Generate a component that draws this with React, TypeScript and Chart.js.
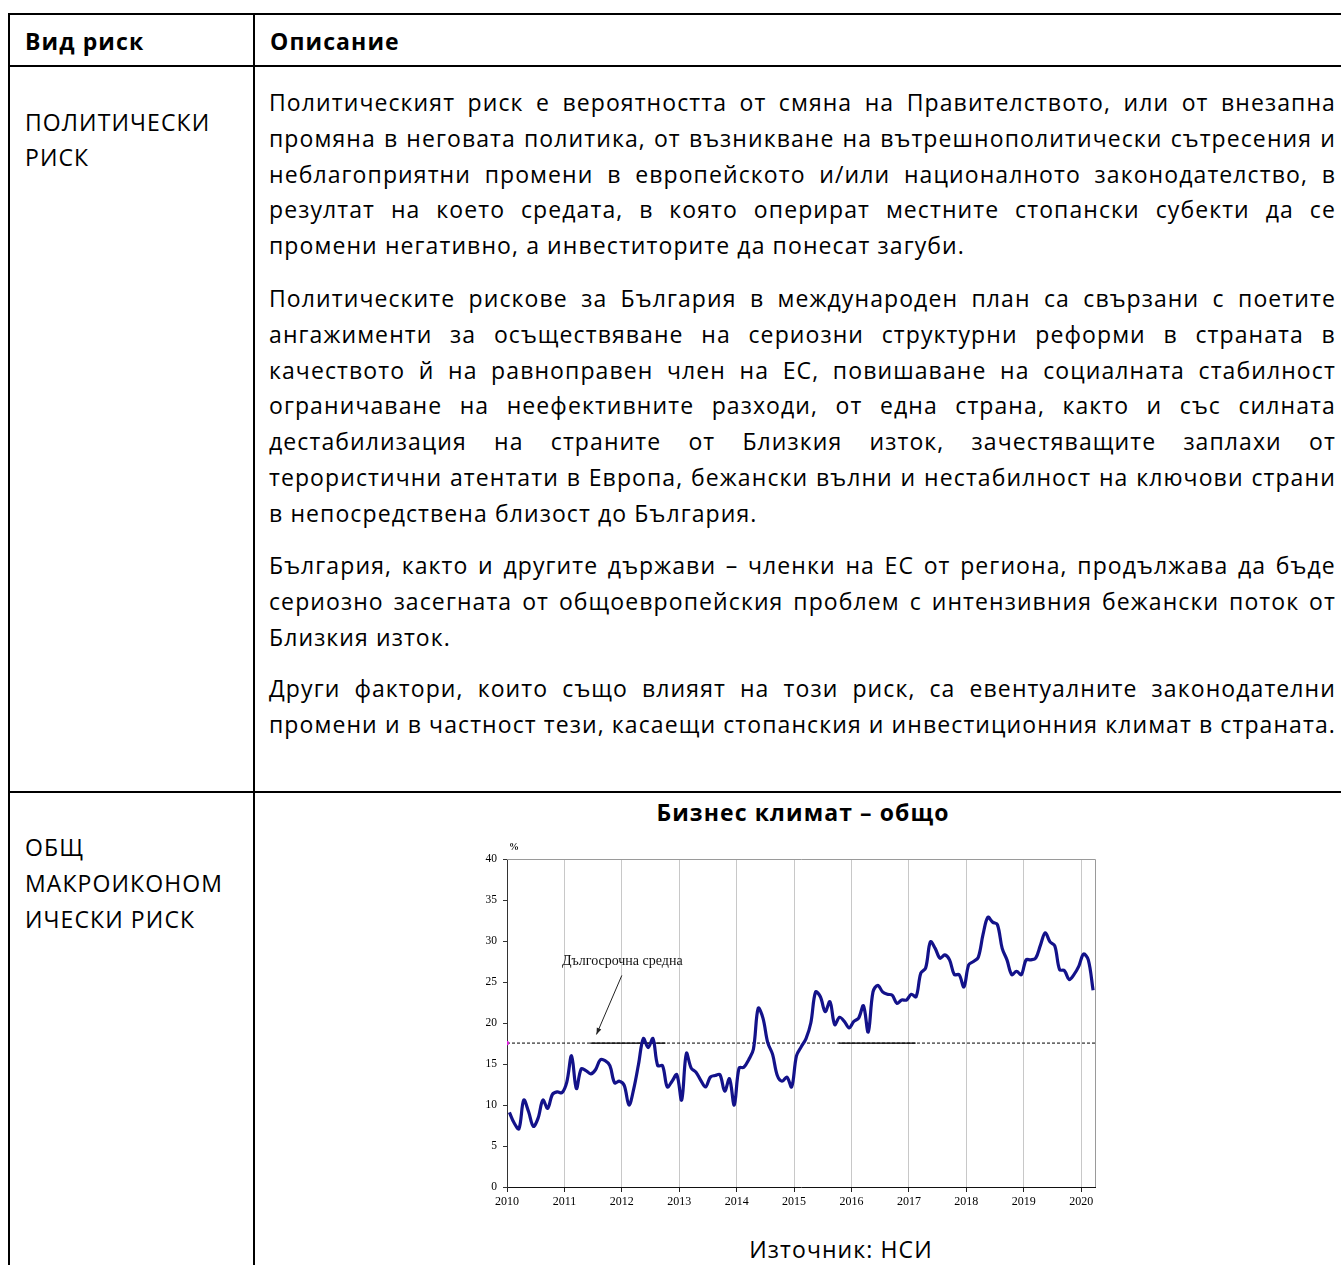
import React, { useEffect, useRef } from "react";
import { Chart, registerables } from "chart.js";

Chart.register(...registerables);

// ---------- chart data ----------
const yearLabels = ["2010", "2011", "2012", "2013", "2014", "2015", "2016", "2017", "2018", "2019", "2020"];

// monthly values, Jan 2010 .. Mar 2020
const climateValues = [
  9.1, 7.8, 7.1, 10.6, 9.2, 7.4, 8.4, 10.6, 9.6, 11.3, 11.6, 11.5,
  12.8, 16.0, 12.0, 14.4, 14.2, 13.8, 14.3, 15.5, 15.4, 14.8, 12.7, 12.9,
  12.4, 10.0, 12.0, 15.0, 18.1, 17.0, 18.1, 14.8, 14.8, 12.2, 12.9, 13.7,
  10.6, 16.3, 14.5, 14.0, 13.0, 12.2, 13.4, 13.6, 13.7, 11.7, 13.2, 10.0,
  14.5, 14.6, 15.5, 16.8, 21.8, 20.6, 17.6, 16.2, 13.6, 12.9, 13.4, 12.2,
  16.0, 17.1, 18.1, 20.0, 23.8, 23.2, 21.4, 22.6, 19.8, 20.7, 20.2, 19.4,
  20.2, 20.6, 22.1, 18.9, 23.8, 24.6, 23.8, 23.5, 23.4, 22.4, 22.8, 22.8,
  23.5, 23.2, 26.1, 26.7, 29.9, 29.1, 27.9, 28.3, 27.7, 25.9, 25.9, 24.4,
  27.1, 27.5, 28.0, 30.8, 32.9, 32.3, 32.0, 29.1, 27.7, 25.9, 26.3, 25.9,
  27.7, 27.7, 27.9, 29.5, 31.0, 29.9, 29.4, 26.5, 26.4, 25.3, 25.9, 26.9,
  28.4, 27.7, 24.0,
];

const longTermAverage = 17.55;
const axisMonthsMax = 122.9;
const solidAverageSegments = [
  [17.4, 33.1],
  [69.3, 85.4],
];
const yTicks = { min: 0, max: 40, step: 5 };
const annotationText = "Дългосрочна средна";

// ---------- page text ----------
const para1 = [
  "Политическият риск е вероятността от смяна на Правителството, или от внезапна",
  "промяна в неговата политика, от възникване на вътрешнополитически сътресения и",
  "неблагоприятни промени в европейското и/или националното законодателство, в",
  "резултат на което средата, в която оперират местните стопански субекти да се",
  "промени негативно, а инвеститорите да понесат загуби.",
];
const para2 = [
  "Политическите рискове за България в международен план са свързани с поетите",
  "ангажименти за осъществяване на сериозни структурни реформи в страната в",
  "качеството й на равноправен член на ЕС, повишаване на социалната стабилност",
  "ограничаване на неефективните разходи, от една страна, както и със силната",
  "дестабилизация на страните от Близкия изток, зачестяващите заплахи от",
  "терористични атентати в Европа, бежански вълни и нестабилност на ключови страни",
  "в непосредствена близост до България.",
];
const para3 = [
  "България, както и другите държави – членки на ЕС от региона, продължава да бъде",
  "сериозно засегната от общоевропейския проблем с интензивния бежански поток от",
  "Близкия изток.",
];
const para4 = [
  "Други фактори, които също влияят на този риск, са евентуалните законодателни",
  "промени и в частност тези, касаещи стопанския и инвестиционния климат в страната.",
];
const paraTops = [102, 298, 565, 688];
const LINE_H = 35.75;

const FONT = "'Open Sans', 'Noto Sans', sans-serif";
const FS = 23;
const LS = "1.1px";

function TextLine({ text, y, justify, left = 269, width = 1067 }: any) {
  const style: any = {
    position: "absolute",
    left,
    top: y - 18,
    width,
    height: 36,
    lineHeight: "36px",
    fontFamily: FONT,
    fontSize: FS,
    letterSpacing: LS,
    color: "#000",
    whiteSpace: "pre",
  };
  if (justify) {
    const words = text.split(" ");
    return (
      <div style={{ ...style, display: "flex", justifyContent: "space-between" }}>
        {words.map((w: string, i: number) => (
          <span key={i}>{w}</span>
        ))}
      </div>
    );
  }
  return <div style={style}>{text}</div>;
}

function Paragraph({ lines, top, lastJustified }: any) {
  return (
    <>
      {lines.map((l: string, i: number) => (
        <TextLine
          key={i}
          text={l}
          y={top + i * LINE_H}
          justify={i < lines.length - 1 || lastJustified}
        />
      ))}
    </>
  );
}

function BizChart() {
  const ref = useRef<HTMLCanvasElement | null>(null);
  useEffect(() => {
    if (!ref.current) return;
    const mainData = climateValues.map((v, i) => ({ x: i + 0.5, y: v }));
    const avgData = [
      { x: 0, y: longTermAverage },
      { x: axisMonthsMax, y: longTermAverage },
    ];
    const solidSets = solidAverageSegments.map((seg) => ({
      data: seg.map((x) => ({ x, y: longTermAverage })),
      borderColor: "#000",
      borderWidth: 1.2,
      pointRadius: 0,
      fill: false,
    }));

    const decor = {
      id: "decor",
      beforeDatasetsDraw(chart: any) {
        const { ctx, chartArea: a } = chart;
        ctx.save();
        ctx.strokeStyle = "#9a9a9a";
        ctx.lineWidth = 1;
        ctx.beginPath();
        ctx.moveTo(a.left, a.top + 0.5);
        ctx.lineTo(a.right + 0.5, a.top + 0.5);
        ctx.lineTo(a.right + 0.5, a.bottom);
        ctx.stroke();
        ctx.restore();
      },
      afterDraw(chart: any) {
        const { ctx, chartArea: a, scales } = chart;
        const xs = scales.x;
        const ys = scales.y;
        ctx.save();
        // % label
        ctx.fillStyle = "#111";
        ctx.font = "bold 10px 'Liberation Serif', serif";
        ctx.textAlign = "left";
        ctx.textBaseline = "middle";
        ctx.fillText("%", a.left + 2, a.top - 12);
        // annotation
        ctx.font = "14px 'Liberation Serif', serif";
        ctx.textAlign = "center";
        ctx.fillStyle = "#111";
        ctx.fillText(annotationText, xs.getPixelForValue(24.1), ys.getPixelForValue(27.5));
        // arrow
        const x1 = xs.getPixelForValue(24.0);
        const y1 = ys.getPixelForValue(25.8);
        const x2 = xs.getPixelForValue(18.7);
        const y2 = ys.getPixelForValue(18.6);
        ctx.strokeStyle = "#222";
        ctx.lineWidth = 1;
        ctx.beginPath();
        ctx.moveTo(x1, y1);
        ctx.lineTo(x2, y2);
        ctx.stroke();
        const ang = Math.atan2(y2 - y1, x2 - x1);
        const hl = 7;
        ctx.fillStyle = "#222";
        ctx.beginPath();
        ctx.moveTo(x2, y2);
        ctx.lineTo(x2 - hl * Math.cos(ang - 0.35), y2 - hl * Math.sin(ang - 0.35));
        ctx.lineTo(x2 - hl * Math.cos(ang + 0.35), y2 - hl * Math.sin(ang + 0.35));
        ctx.closePath();
        ctx.fill();
        ctx.restore();
      },
    };

    const chart = new Chart(ref.current, {
      type: "line",
      data: {
        datasets: [
          {
            data: mainData,
            borderColor: "#13128a",
            borderWidth: 3.2,
            pointRadius: 0,
            tension: 0.35,
            fill: false,
          } as any,
          {
            data: [{ x: 0, y: longTermAverage }],
            pointRadius: 1.8,
            pointBackgroundColor: "#e020e0",
            pointBorderColor: "#e020e0",
            showLine: false,
          } as any,
          ...solidSets,
          {
            data: avgData,
            borderColor: "#000",
            borderWidth: 1,
            borderDash: [3, 2],
            pointRadius: 0,
            fill: false,
          } as any,
        ],
      },
      options: {
        animation: false,
        responsive: false,
        devicePixelRatio: 1,
        layout: { padding: { top: 24, right: 15, left: 0, bottom: 0 } },
        plugins: { legend: { display: false }, tooltip: { enabled: false }, title: { display: false } },
        scales: {
          x: {
            type: "linear",
            min: 0,
            max: axisMonthsMax,
            afterBuildTicks: (axis: any) => {
              axis.ticks = yearLabels.map((_, i) => ({ value: i * 12 }));
            },
            afterFit: (s: any) => {
              s.height = 33;
            },
            ticks: {
              autoSkip: false,
              maxRotation: 0,
              padding: 3,
              color: "#000",
              font: { family: "'Liberation Serif', serif", size: 12 },
              callback: (_v: any, i: number) => yearLabels[i],
            },
            grid: { color: "#c8c8c8", lineWidth: 1, tickLength: 5, tickColor: "#222" },
            border: { color: "#111", width: 1 },
          },
          y: {
            min: yTicks.min,
            max: yTicks.max,
            afterFit: (s: any) => {
              s.width = 37;
            },
            ticks: {
              stepSize: yTicks.step,
              padding: 6,
              color: "#000",
              font: { family: "'Liberation Serif', serif", size: 11.5 },
            },
            grid: { drawOnChartArea: false, tickLength: 4, tickColor: "#333" },
            border: { color: "#333", width: 1 },
          },
        },
      } as any,
      plugins: [decor],
    });
    return () => chart.destroy();
  }, []);
  return (
    <canvas
      ref={ref}
      width={640}
      height={385}
      style={{ position: "absolute", left: 470, top: 835, width: 640, height: 385 }}
    />
  );
}

function HLine({ x, y, w }: any) {
  return <div style={{ position: "absolute", left: x, top: y, width: w, height: 2, background: "#000" }} />;
}
function VLine({ x, y, h }: any) {
  return <div style={{ position: "absolute", left: x, top: y, width: 2, height: h, background: "#000" }} />;
}

function Label({ text, x, y, bold, size = FS, center, h = 36 }: any) {
  return (
    <div
      style={{
        position: "absolute",
        left: center ? x - 300 : x,
        width: center ? 600 : undefined,
        textAlign: center ? "center" : "left",
        top: y - h / 2,
        height: h,
        lineHeight: h + "px",
        fontFamily: FONT,
        fontSize: size,
        letterSpacing: LS,
        fontWeight: bold ? 700 : 400,
        whiteSpace: "pre",
        color: "#000",
      }}
    >
      {text}
    </div>
  );
}

export default function App() {
  return (
    <div
      style={{
        position: "absolute",
        left: 0,
        top: 0,
        width: 1341,
        height: 1265,
        overflow: "hidden",
        background: "#fff",
      }}
    >
      <HLine x={8} y={13} w={1333} />
      <HLine x={8} y={65} w={1333} />
      <HLine x={8} y={791} w={1333} />
      <VLine x={8} y={13} h={1252} />
      <VLine x={253} y={13} h={1252} />

      <Label text="Вид риск" x={25} y={41} bold />
      <Label text="Описание" x={270} y={41} bold />

      <Label text="ПОЛИТИЧЕСКИ" x={25} y={122} />
      <Label text="РИСК" x={25} y={157} />

      <Label text="ОБЩ" x={25} y={847} />
      <Label text="МАКРОИКОНОМ" x={25} y={883} />
      <Label text="ИЧЕСКИ РИСК" x={25} y={919} />

      <Paragraph lines={para1} top={paraTops[0]} />
      <Paragraph lines={para2} top={paraTops[1]} />
      <Paragraph lines={para3} top={paraTops[2]} />
      <Paragraph lines={para4} top={paraTops[3]} />

      <Label text="Бизнес климат – общо" x={803} y={812} bold center />
      <BizChart />
      <Label text="Източник: НСИ" x={841} y={1249} center h={24} />
    </div>
  );
}
